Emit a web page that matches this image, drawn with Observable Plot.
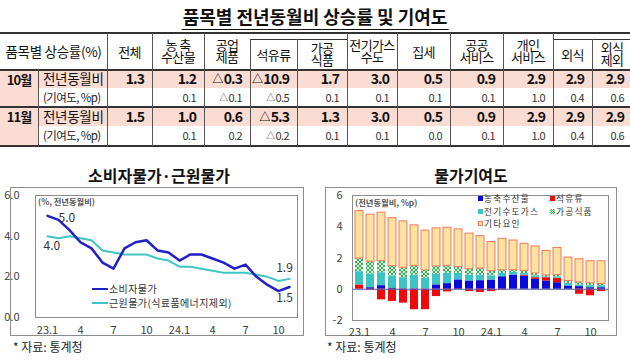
<!DOCTYPE html>
<html><head><meta charset="utf-8">
<script src="https://cdn.jsdelivr.net/npm/d3@7"></script>
<script src="https://cdn.jsdelivr.net/npm/@observablehq/plot@0.6"></script>
<style>
body{margin:0;background:#fff;font-family:"Noto Sans CJK KR","Noto Sans",sans-serif;color:#111}
#root{position:relative;width:630px;height:360px;overflow:hidden}
.ttl{position:absolute;text-align:center;font-weight:700;line-height:20px;white-space:nowrap;transform:translateX(-50%)}
.ttl span{border-bottom:1.5px solid #111;padding:0 1px 0}
.c{position:absolute;display:flex;align-items:center;box-sizing:border-box;white-space:pre;line-height:11.5px}
.c .tri{font-size:0.8em;margin-right:1px}
.ln{position:absolute;background:#333}
.t{position:absolute;white-space:nowrap;line-height:1}
</style></head><body><div id="root"></div>
<script>
// ---------- data ----------
const tableTitle = "품목별 전년동월비 상승률 및 기여도";
const tableCols = ["전체","농 축\n수산물","공업\n제품","석유류","가공\n식품","전기가스\n수도","집세","공공\n서비스","개인\n서비스","외식","외식\n제외"];
const monthRows = ["10월","11월"];
const octRate = ["1.3","1.2","△0.3","△10.9","1.7","3.0","0.5","0.9","2.9","2.9","2.9"];
const octContrib = ["","0.1","△0.1","△0.5","0.1","0.1","0.1","0.1","1.0","0.4","0.6"];
const novRate = ["1.5","1.0","0.6","△5.3","1.3","3.0","0.5","0.9","2.9","2.9","2.9"];
const novContrib = ["","0.1","0.2","△0.2","0.1","0.1","0.0","0.1","1.0","0.4","0.6"];

const months = ["23.1","23.2","23.3","23.4","23.5","23.6","23.7","23.8","23.9","23.10","23.11","23.12",
                "24.1","24.2","24.3","24.4","24.5","24.6","24.7","24.8","24.9","24.10","24.11"];
const xTicks = ["23.1","23.4","23.7","23.10","24.1","24.4","24.7","24.10"];
const xTickLabels = ["23.1","4","7","10","24.1","4","7","10"];

const cpi  = [5.0,4.8,4.3,3.7,3.4,2.7,2.4,3.4,3.7,3.8,3.3,3.2,2.8,3.1,3.1,2.9,2.7,2.4,2.6,2.0,1.6,1.3,1.5];
const core = [4.0,3.9,4.0,3.9,3.8,3.3,3.2,3.1,3.1,3.1,2.9,2.8,2.5,2.5,2.4,2.3,2.2,2.2,2.2,2.1,2.0,1.8,1.9];

const contribKeys = ["농축수산물","석유류","전기수도가스","가공식품","기타요인"];
const agri  = [0.00,0.10,0.23,0.08,0.03,0.03,0.02,0.28,0.36,0.60,0.53,0.55,0.59,0.80,0.91,0.84,0.63,0.53,0.42,0.21,0.17,0.10,0.10];
const oil   = [0.28,-0.06,-0.68,-0.78,-0.89,-1.31,-1.31,-0.47,-0.17,-0.02,-0.15,-0.21,-0.15,-0.06,0.00,0.06,0.11,0.21,0.28,0.00,-0.32,-0.42,-0.15];
const util  = [0.84,0.87,0.83,0.77,0.71,0.88,0.68,0.67,0.66,0.42,0.38,0.36,0.27,0.21,0.17,0.11,0.12,0.05,0.10,0.17,0.10,0.13,0.13];
const proc  = [0.85,0.79,0.74,0.63,0.64,0.59,0.51,0.51,0.48,0.40,0.38,0.42,0.30,0.21,0.14,0.17,0.15,0.10,0.11,0.15,0.17,0.15,0.11];
const other = [3.03,3.01,3.10,3.07,2.96,2.59,2.54,2.44,2.44,2.41,2.27,2.07,1.86,2.01,1.90,1.73,1.73,1.56,1.73,1.50,1.48,1.41,1.45];

// ---------- helpers ----------
const root = document.getElementById("root");
function el(cls, css, text) {
  const d = document.createElement("div");
  d.className = cls;
  Object.assign(d.style, css);
  if (text !== undefined) d.textContent = text;
  root.appendChild(d);
  return d;
}
function num(cls, css, text) {
  const d = el(cls, css);
  if (text.startsWith("△")) {
    const s = document.createElement("span"); s.className = "tri"; s.textContent = "△"; d.appendChild(s);
    d.appendChild(document.createTextNode(text.slice(1)));
  } else d.textContent = text;
  return d;
}
function title(text, cx, top, size) {
  const d = el("ttl", {left: cx + "px", top: top + "px", fontSize: size + "px"});
  const s = document.createElement("span"); s.textContent = text; d.appendChild(s);
}

// ---------- table ----------
title(tableTitle, 315, 6, 18);
const E = [0, 38, 107, 152, 204, 250, 297, 347, 397, 450, 503, 553, 592, 632];
const sub = new Set([3, 4, 9, 10]);
const pink = "#FADCD2";
const R = [70, 88, 107, 126, 146];

el("c", {left: "0px", top: R[0] + "px", width: "632px", height: (R[1]-R[0]) + "px", background: pink});
el("c", {left: "0px", top: R[2] + "px", width: "632px", height: (R[3]-R[2]) + "px", background: pink});
el("c", {left: "0px", top: R[0] + "px", width: E[1] + "px", height: (R[4]-R[0]) + "px", background: pink});

el("c", {left: "0px", top: "33px", width: E[2] + "px", height: "37px", justifyContent: "center", fontSize: "13.5px", letterSpacing: "-0.3px"}, "품목별 상승률(%)");
tableCols.forEach((h, i) => {
  const x0 = E[i+2], x1 = E[i+3];
  const y0 = sub.has(i) ? 39 : 33;
  el("c", {left: x0 + "px", top: y0 + "px", width: (x1-x0) + "px", height: (70-y0) + "px",
    justifyContent: "center", textAlign: "center", fontSize: "13px", letterSpacing: "-0.6px",
    paddingBottom: h.includes("\n") ? "2px" : "0px"}, h);
});

const rows = [[octRate, octContrib], [novRate, novContrib]];
rows.forEach(([rate, contrib], r) => {
  const yA = R[r*2], yB = R[r*2+1], yC = R[r*2+2];
  el("c", {left: "0px", top: (yA+2) + "px", width: E[1] + "px", height: "16px", justifyContent: "center", fontWeight: "700", fontSize: "13px", letterSpacing: "-1px"}, monthRows[r]);
  el("c", {left: (E[1]+5) + "px", top: yA + "px", width: (E[2]-E[1]-5) + "px", height: (yB-yA) + "px", fontSize: "13.5px", letterSpacing: "-0.3px"}, "전년동월비");
  el("c", {left: (E[1]+5) + "px", top: yB + "px", width: (E[2]-E[1]-5) + "px", height: (yC-yB) + "px", fontSize: "11.5px", letterSpacing: "-0.6px", color: "#222"}, "(기여도, %p)");
  rate.forEach((v, i) => {
    num("c", {left: E[i+2] + "px", top: yA + "px", width: (E[i+3]-E[i+2]) + "px", height: (yB-yA) + "px",
      justifyContent: "flex-end", paddingRight: "8px", fontWeight: "700", fontSize: "14px", letterSpacing: "-0.9px"}, v);
  });
  contrib.forEach((v, i) => {
    num("c", {left: E[i+2] + "px", top: yB + "px", width: (E[i+3]-E[i+2]) + "px", height: (yC-yB) + "px",
      justifyContent: "flex-end", paddingRight: "8px", fontSize: "11px", letterSpacing: "-0.6px", color: "#333"}, v);
  });
});

function hl(x0, x1, y, w) { el("ln", {left: x0 + "px", top: (y - w/2) + "px", width: (x1-x0) + "px", height: w + "px"}); }
function vl(x, y0, y1) { el("ln", {left: (x - 0.5) + "px", top: y0 + "px", width: "1px", height: (y1-y0) + "px", background: "#555"}); }
hl(0, 632, 33, 1.5); hl(0, 632, 70, 1.5); hl(0, 632, 107, 1.5); hl(0, 632, 146, 1.5);
hl(E[5], E[7], 39, 1); hl(E[11], E[13], 39, 1);
vl(E[1], 70, 146);
[2,3,4,7,8,9,10,11].forEach(k => vl(E[k], 33, 146));
[5,6,12].forEach(k => vl(E[k], 39, 146));

// ---------- charts common ----------
const tickLabel = new Map(xTicks.map((t, i) => [t, xTickLabels[i]]));
const plotStyle = {fontFamily: "Noto Sans CJK KR, Noto Sans, sans-serif", fontSize: "11px", color: "#404040", background: "transparent", overflow: "visible"};

// ---------- left chart ----------
title("소비자물가·근원물가", 159, 165, 16);
el("c", {left: "10px", top: "187px", width: "294px", height: "149px", border: "1px solid #8c8c8c"});
const cpiData = months.map((m, i) => ({m, v: cpi[i]}));
const coreData = months.map((m, i) => ({m, v: core[i]}));
const last = months.length - 1;
const left = Plot.plot({
  width: 294, height: 149,
  marginLeft: 25, marginRight: 7, marginTop: 8, marginBottom: 19,
  style: plotStyle,
  x: {type: "point", domain: months, padding: 0, insetLeft: 7, insetRight: 3.5},
  y: {domain: [0, 6]},
  marks: [
    Plot.frame({stroke: "#8c8c8c"}),
    Plot.axisX(xTicks, {tickSize: 0, tickPadding: 9, tickFormat: d => tickLabel.get(d), label: null}),
    Plot.axisY([0, 2, 4, 6], {tickSize: 0, tickPadding: 16, tickFormat: d => d.toFixed(1), label: null}),
    Plot.line(coreData, {x: "m", y: "v", stroke: "#3EC6C6", strokeWidth: 2}),
    Plot.line(cpiData, {x: "m", y: "v", stroke: "#2020C8", strokeWidth: 2.5}),
    Plot.text([cpiData[0]], {x: "m", y: "v", text: d => d.v.toFixed(1), dx: 11, dy: 2, textAnchor: "start", fontSize: 12, fill: "#333"}),
    Plot.text([coreData[0]], {x: "m", y: "v", text: d => d.v.toFixed(1), dx: -4, dy: 10, textAnchor: "start", fontSize: 12, fill: "#333"}),
    Plot.text([coreData[last]], {x: "m", y: "v", text: d => d.v.toFixed(1), dx: -5, dy: -11, fontSize: 12, fill: "#333"}),
    Plot.text([cpiData[last]], {x: "m", y: "v", text: d => d.v.toFixed(1), dx: -5, dy: 11, fontSize: 12, fill: "#333"})
  ]
});
Object.assign(left.style, {position: "absolute", left: "10px", top: "187px"});
root.appendChild(left);
el("t", {left: "38px", top: "197px", fontSize: "8.3px", fontWeight: "700", color: "#555"}, "(%, 전년동월비)");
el("ln", {left: "92px", top: "287.5px", width: "16px", height: "2.5px", background: "#2020C8"});
el("ln", {left: "92px", top: "302px", width: "16px", height: "2px", background: "#3EC6C6"});
el("t", {left: "109px", top: "283.5px", fontSize: "10px", lineHeight: "10px", letterSpacing: "0.4px", color: "#333"}, "소비자물가");
el("t", {left: "109px", top: "298px", fontSize: "10px", lineHeight: "10px", letterSpacing: "0.4px", color: "#333"}, "근원물가(식료품에너지제외)");
el("t", {left: "13px", top: "341px", fontSize: "12px", color: "#222"}, "* 자료: 통계청");

// ---------- right chart ----------
title("물가기여도", 471, 165, 16);
el("c", {left: "325px", top: "187px", width: "292px", height: "149px", border: "1px solid #8c8c8c"});
const series = [agri, oil, util, proc, other];
const contribData = months.flatMap((m, i) => contribKeys.map((k, j) => ({m, k, v: series[j][i]})));
const right = Plot.plot({
  width: 292, height: 149,
  marginLeft: 27, marginRight: 9, marginTop: 8, marginBottom: 16,
  style: plotStyle,
  x: {type: "band", domain: months, paddingInner: 0.31, paddingOuter: 0.2},
  y: {domain: [-2, 6]},
  color: {domain: contribKeys, range: ["#0A0ADC", "#EE0A0A", "#3CC4C4", "url(#chk)", "#FFE1A0"]},
  marks: [
    Plot.frame({stroke: "#8c8c8c"}),
    Plot.axisX(xTicks, {tickSize: 0, tickPadding: 8, tickFormat: d => tickLabel.get(d), label: null}),
    Plot.axisY([-2, 0, 2, 4, 6], {tickSize: 0, tickPadding: 10, tickFormat: d => String(d), label: null}),
    Plot.barY(contribData, {x: "m", y: "v", fill: "k"}),
    Plot.barY(contribData, {x: "m", y: "v", z: "k", fill: "none", stroke: "#EE7B5A", strokeWidth: 1,
      strokeOpacity: d => d.k === "기타요인" ? 1 : 0}),
    Plot.ruleY([0], {stroke: "#5a5aa8", strokeWidth: 1})
  ]
});
const defs = d3.select(right).insert("defs", ":first-child");
const pat = defs.append("pattern").attr("id", "chk").attr("patternUnits", "userSpaceOnUse").attr("width", 4).attr("height", 4);
pat.append("rect").attr("width", 4).attr("height", 4).attr("fill", "#D6F0D6");
pat.append("rect").attr("width", 2).attr("height", 2).attr("fill", "#3DAA5E");
pat.append("rect").attr("x", 2).attr("y", 2).attr("width", 2).attr("height", 2).attr("fill", "#3DAA5E");
Object.assign(right.style, {position: "absolute", left: "325px", top: "187px"});
root.appendChild(right);
el("t", {left: "355px", top: "198px", fontSize: "8.3px", fontWeight: "700", color: "#555"}, "(전년동월비, %p)");

const legendItems = [
  {k: 0, x: 478, y: 198.5, css: {background: "#0A0ADC"}},
  {k: 1, x: 550, y: 198.5, css: {background: "#EE0A0A"}},
  {k: 2, x: 478, y: 211, css: {background: "#3CC4C4"}},
  {k: 3, x: 550, y: 211, css: {background: "repeating-conic-gradient(#3DAA5E 0 25%, #D6F0D6 0 50%) 0 0/2px 2px"}},
  {k: 4, x: 478, y: 223.5, css: {background: "#FFE1A0", border: "1px solid #EE7B5A", boxSizing: "border-box"}}
];
legendItems.forEach(it => {
  el("ln", Object.assign({left: it.x + "px", top: (it.y - 2.5) + "px", width: "5px", height: "5px"}, it.css));
  el("t", {left: (it.x + 6) + "px", top: (it.y - 4.5) + "px", fontSize: "8.7px", lineHeight: "9px", letterSpacing: "1.2px", color: "#333"}, contribKeys[it.k]);
});
el("t", {left: "327px", top: "341px", fontSize: "12px", color: "#222"}, "* 자료: 통계청");
</script></body></html>
